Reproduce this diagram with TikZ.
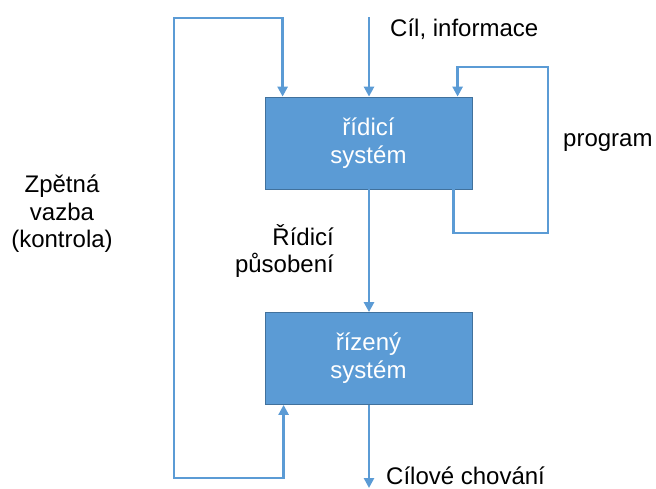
\documentclass[tikz,border=0pt]{standalone}
\usepackage{fontspec}
\setmainfont{Liberation Sans}
\usetikzlibrary{arrows.meta}
\definecolor{lblue}{HTML}{5B9BD5}
\definecolor{dblue}{HTML}{41719C}
\tikzset{
  sysbox/.style={draw=dblue, line width=0.8pt, fill=lblue, text=white, minimum width=207pt, minimum height=92pt, inner sep=0pt, align=center, font=\fontsize{24}{28}\selectfont},
  lbl/.style={font=\fontsize{24}{27.5}\selectfont, inner sep=0pt, text=black},
  conn/.style={draw=lblue, line width=2.6pt, -{Triangle[length=10pt,width=10pt]}},
  conn2/.style={draw=lblue, line width=2.6pt, {Triangle[length=10pt,width=10pt]}-{Triangle[length=10pt,width=10pt]}}
}
\begin{document}
\begin{tikzpicture}[x=1pt,y=-1pt]
\useasboundingbox (0,0) rectangle (656,488);
\node[sysbox] (ctrl) at (368.5,143) {\raisebox{-2pt}{\parbox{200pt}{\centering řídicí\\systém}}};
\node[sysbox] (plant) at (368.5,358.5) {\raisebox{-2pt}{\parbox{200pt}{\centering řízený\\systém}}};
\coordinate (in) at (369,17);
\coordinate (out) at (369,488);
\coordinate (fbtl) at (174,18);
\coordinate (fbbl) at (174,478);
\coordinate (prtr) at (548,67);
\coordinate (prbr) at (548,233);
\node[lbl, anchor=west] (goal) at (390,29) {Cíl, informace};
\node[lbl, anchor=west] (prog) at (563,143) {program};
\node[lbl, align=center] (fb) at (62,214) {Zpětná\\vazba\\(kontrola)};
\node[lbl, align=right, anchor=east] (act) at (334,251) {Řídicí\\působení};
\node[lbl, anchor=west] (beh) at (386,476) {Cílové chování};
\draw[conn] (in) -- (in |- ctrl.north);
\draw[conn] (ctrl.south -| in) -- (plant.north -| in);
\draw[conn] (plant.south -| out) -- (out);
\draw[conn2] ([xshift=18pt]ctrl.north west) |- (fbtl) -- (fbbl) -| ([xshift=19pt]plant.south west);
\draw[conn] ([xshift=189pt]ctrl.south west) |- (prbr) -- (prtr) -| ([xshift=193pt]ctrl.north west);
\end{tikzpicture}
\end{document}
